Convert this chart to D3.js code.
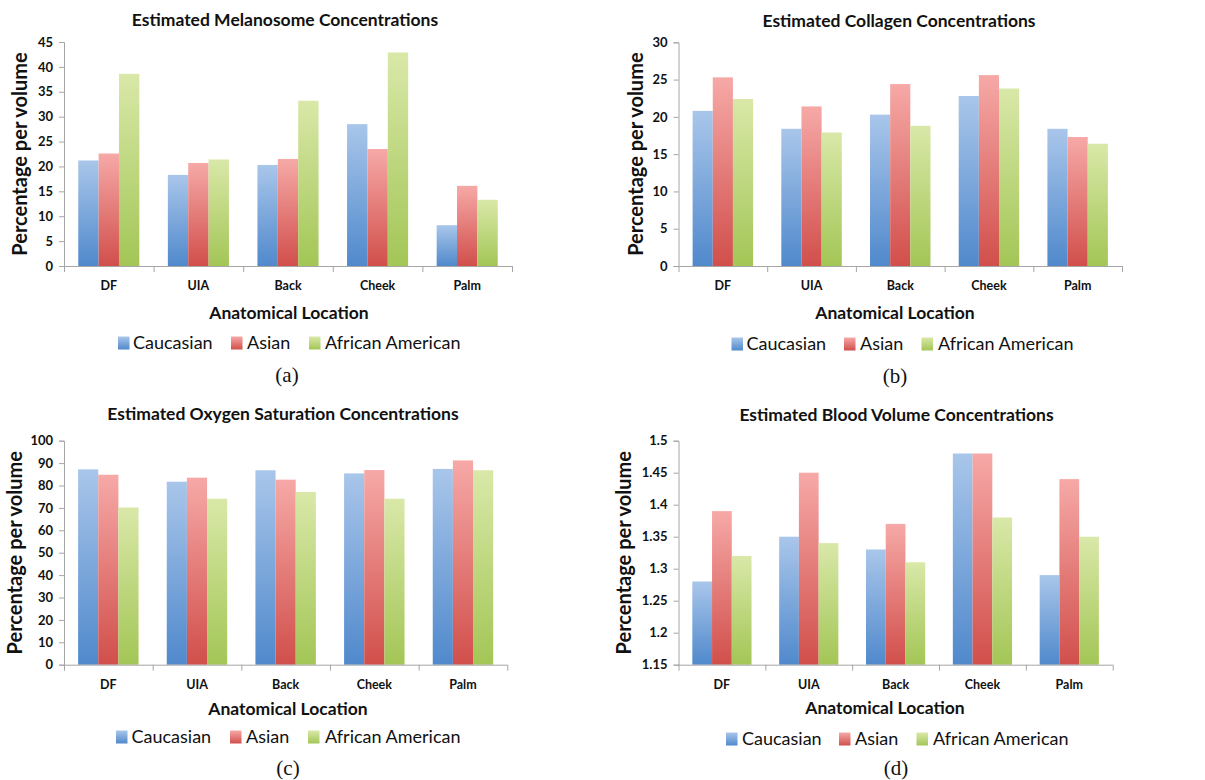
<!DOCTYPE html>
<html>
<head>
<meta charset="utf-8">
<script src="https://cdn.jsdelivr.net/npm/d3@7"></script>
<style>
  html, body { margin: 0; padding: 0; background: #fff; }
  svg { display: block; }
</style>
</head>
<body>
<svg id="chart" width="1205" height="780"></svg>
<script>
// ---------- DATA ----------
const categories = ["DF", "UIA", "Back", "Cheek", "Palm"];
const seriesNames = ["Caucasian", "Asian", "African American"];

const melanosomeCaucasian = [21.2, 18.3, 20.3, 28.5, 8.2];
const melanosomeAsian     = [22.6, 20.7, 21.5, 23.5, 16.1];
const melanosomeAfrican   = [38.6, 21.4, 33.2, 42.9, 13.3];
const melanosomeTicks     = [0, 5, 10, 15, 20, 25, 30, 35, 40, 45];

const collagenCaucasian = [20.8, 18.4, 20.3, 22.8, 18.4];
const collagenAsian     = [25.3, 21.4, 24.4, 25.6, 17.3];
const collagenAfrican   = [22.4, 17.9, 18.8, 23.8, 16.4];
const collagenTicks     = [0, 5, 10, 15, 20, 25, 30];

const oxygenCaucasian = [87.2, 81.7, 86.8, 85.4, 87.4];
const oxygenAsian     = [84.8, 83.5, 82.6, 86.9, 91.2];
const oxygenAfrican   = [70.2, 74.1, 77.1, 74.1, 86.8];
const oxygenTicks     = [0, 10, 20, 30, 40, 50, 60, 70, 80, 90, 100];

const bloodCaucasian = [1.28, 1.35, 1.33, 1.48, 1.29];
const bloodAsian     = [1.39, 1.45, 1.37, 1.48, 1.44];
const bloodAfrican   = [1.32, 1.34, 1.31, 1.38, 1.35];
const bloodTicks     = [1.15, 1.2, 1.25, 1.3, 1.35, 1.4, 1.45, 1.5];
const bloodTickLabels = ["1.15", "1.2", "1.25", "1.3", "1.35", "1.4", "1.45", "1.5"];

// ---------- PANELS (layout only) ----------
const panels = [
  { title: "Estimated Melanosome Concentrations", caption: "(a)",
    values: [melanosomeCaucasian, melanosomeAsian, melanosomeAfrican],
    ticks: melanosomeTicks, tickLabels: null,
    x0: 64, x1: 512, yTop: 42, yBot: 266,
    titleX: 285, titleY: 20, ylabX: 20, xlabX: 289, xlabY: 313, catY: 286,
    legY: 343, legSw: [118, 231, 309], legTx: [133, 247, 325], capX: 287, capY: 375 },
  { title: "Estimated Collagen Concentrations", caption: "(b)",
    values: [collagenCaucasian, collagenAsian, collagenAfrican],
    ticks: collagenTicks, tickLabels: null,
    x0: 678.5, x1: 1122, yTop: 42.3, yBot: 266,
    titleX: 899, titleY: 21, ylabX: 636, xlabX: 895, xlabY: 313, catY: 286,
    legY: 344, legSw: [731.5, 844, 921.5], legTx: [746.5, 860, 938], capX: 895, capY: 376 },
  { title: "Estimated Oxygen Saturation Concentrations", caption: "(c)",
    values: [oxygenCaucasian, oxygenAsian, oxygenAfrican],
    ticks: oxygenTicks, tickLabels: null,
    x0: 64, x1: 507.3, yTop: 440.7, yBot: 664.7,
    titleX: 283, titleY: 413.5, ylabX: 15, xlabX: 288, xlabY: 709, catY: 685,
    legY: 737, legSw: [116, 230, 308], legTx: [131.5, 246, 325], capX: 288, capY: 768 },
  { title: "Estimated Blood Volume Concentrations", caption: "(d)",
    values: [bloodCaucasian, bloodAsian, bloodAfrican],
    ticks: bloodTicks, tickLabels: bloodTickLabels,
    x0: 678.5, x1: 1112.7, yTop: 440.7, yBot: 664.7,
    titleX: 896.5, titleY: 414.5, ylabX: 624, xlabX: 885, xlabY: 708, catY: 685,
    legY: 739, legSw: [726, 839, 916.5], legTx: [742, 855, 933], capX: 896, capY: 768 }
];

const gradStops = [
  ["#a9c6ea", "#5089cc"],
  ["#f6a9a7", "#d14f4b"],
  ["#d9e8a8", "#a3c656"]
];

const svg = d3.select("#chart");
const defs = svg.append("defs");
gradStops.forEach((g, i) => {
  const lg = defs.append("linearGradient").attr("id", "g" + i)
    .attr("x1", 0).attr("y1", 0).attr("x2", 0).attr("y2", 1);
  lg.append("stop").attr("offset", "0%").attr("stop-color", g[0]);
  lg.append("stop").attr("offset", "100%").attr("stop-color", g[1]);
});

const SANS = "Lato, 'Open Sans', sans-serif";
const AXIS = "#a6a6a6";

panels.forEach(p => {
  const g = svg.append("g");
  const yMin = p.ticks[0], yMax = p.ticks[p.ticks.length - 1];
  const y = d3.scaleLinear().domain([yMin, yMax]).range([p.yBot, p.yTop]);
  const x = d3.scaleBand().domain(categories).range([p.x0, p.x1]).padding(0);
  const xs = d3.scaleBand().domain(seriesNames).range([0, x.bandwidth()])
    .paddingInner(0).paddingOuter(0.7);

  // bars
  categories.forEach((c, ci) => {
    seriesNames.forEach((s, si) => {
      const v = p.values[si][ci];
      g.append("rect")
        .attr("x", x(c) + xs(s))
        .attr("y", y(v))
        .attr("width", xs.bandwidth())
        .attr("height", y(yMin) - y(v))
        .attr("fill", "url(#g" + si + ")");
    });
  });

  // y axis
  const yAxis = d3.axisLeft(y).tickValues(p.ticks).tickSize(5).tickPadding(6)
    .tickFormat((d, i) => p.tickLabels ? p.tickLabels[i] : d3.format("d")(d));
  const ya = g.append("g").attr("transform", `translate(${p.x0},0)`).call(yAxis);
  ya.select(".domain").attr("stroke", AXIS);
  ya.selectAll(".tick line").attr("stroke", AXIS);
  ya.selectAll(".tick text").attr("font-family", SANS).attr("font-weight", "bold")
    .attr("font-size", 13).attr("fill", "#111");

  // x axis: line with ticks at category boundaries
  const xa = g.append("g");
  xa.append("line").attr("x1", p.x0).attr("x2", p.x1)
    .attr("y1", p.yBot + 0.5).attr("y2", p.yBot + 0.5).attr("stroke", AXIS);
  const bounds = categories.map(c => x(c)).concat([x.range()[1]]);
  xa.selectAll(".bt").data(bounds).enter().append("line")
    .attr("x1", d => d + 0.5).attr("x2", d => d + 0.5)
    .attr("y1", p.yBot).attr("y2", p.yBot + 6).attr("stroke", AXIS);
  xa.selectAll(".cl").data(categories).enter().append("text")
    .attr("x", d => x(d) + x.bandwidth() / 2).attr("y", p.catY).attr("dy", "0.35em")
    .attr("text-anchor", "middle").attr("font-family", SANS).attr("font-weight", "bold")
    .attr("font-size", 12.5).attr("fill", "#111").text(d => d);

  // title
  g.append("text").attr("x", p.titleX).attr("y", p.titleY).attr("dy", "0.35em")
    .attr("text-anchor", "middle").attr("font-family", SANS).attr("font-weight", "bold")
    .attr("font-size", 17.5).attr("fill", "#111").text(p.title);

  // y label
  g.append("text")
    .attr("transform", `translate(${p.ylabX},${(p.yTop + p.yBot) / 2}) rotate(-90)`)
    .attr("dy", "0.35em").attr("text-anchor", "middle").attr("font-family", SANS)
    .attr("font-weight", "bold").attr("font-size", 20).attr("fill", "#111")
    .text("Percentage per volume");

  // x label
  g.append("text").attr("x", p.xlabX).attr("y", p.xlabY).attr("dy", "0.35em")
    .attr("text-anchor", "middle").attr("font-family", SANS).attr("font-weight", "bold")
    .attr("font-size", 17.5).attr("fill", "#111").text("Anatomical Location");

  // legend
  seriesNames.forEach((s, si) => {
    g.append("rect").attr("x", p.legSw[si]).attr("y", p.legY - 6.5)
      .attr("width", 11.5).attr("height", 13).attr("fill", "url(#g" + si + ")");
    g.append("text").attr("x", p.legTx[si]).attr("y", p.legY).attr("dy", "0.35em")
      .attr("font-family", SANS).attr("font-size", 18).attr("fill", "#111").text(s);
  });

  // caption
  g.append("text").attr("x", p.capX).attr("y", p.capY).attr("dy", "0.35em")
    .attr("text-anchor", "middle").attr("font-family", "'Liberation Serif', 'Times New Roman', serif")
    .attr("font-size", 21).attr("fill", "#111").text(p.caption);
});
</script>
</body>
</html>
